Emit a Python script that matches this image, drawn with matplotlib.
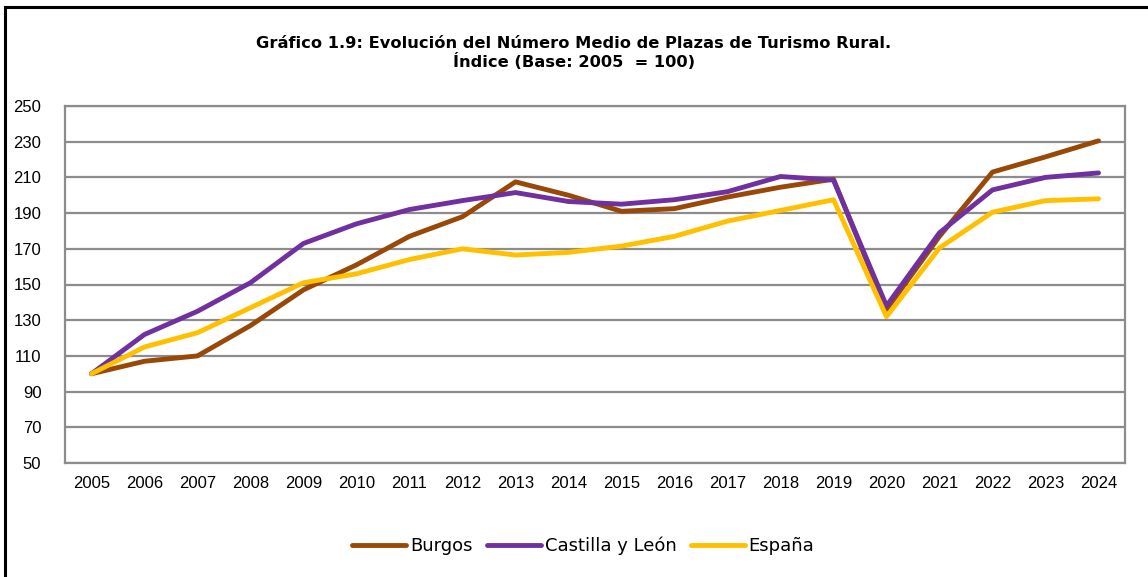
import numpy as np
import matplotlib.pyplot as plt
from matplotlib.patches import Rectangle

# index values (base 2005 = 100)
years = list(range(2005, 2025))
burgos = [100, 107, 110, 127, 147, 161, 177, 188, 207.5, 200, 191, 192.5, 199, 204.5, 209,
          136, 177, 213, 221.5, 230.5]
castilla = [100, 122, 135, 151, 173, 184, 192, 197, 201.5, 196.5, 195, 197.5, 202, 210.5, 208.5,
            138, 179, 203, 210, 212.5]
espana = [100, 115, 123, 137, 151, 156, 164, 170, 166.5, 168, 171.5, 177, 185.5, 191.5, 197.5,
          132, 170.5, 190.5, 197, 198]

series = [("Burgos", burgos, "#984807"),
          ("Castilla y León", castilla, "#7030A0"),
          ("España", espana, "#FFC000")]

title = "Gráfico 1.9: Evolución del Número Medio de Plazas de Turismo Rural.\nÍndice (Base: 2005  = 100)"

fig = plt.figure(figsize=(11.48, 5.77), dpi=100)
ax = fig.add_axes([65 / 1148, 1 - 463 / 577, (1125 - 65) / 1148, (463 - 106) / 577])

for name, vals, col in series:
    ax.plot(years, vals, color=col, linewidth=3.5, label=name, solid_capstyle="round")

ax.set_ylim(50, 250)
ax.set_yticks(range(50, 251, 20))
ax.set_xlim(2004.5, 2024.5)
ax.set_xticks(years)
ax.grid(axis="y", color="#8c8c8c", linewidth=1.6)
ax.set_axisbelow(True)
for sp in ax.spines.values():
    sp.set_color("#8c8c8c")
    sp.set_linewidth(1.6)
ax.tick_params(length=0, labelsize=12)
ax.tick_params(axis="y", pad=17)
ax.tick_params(axis="x", pad=9)
for lab in ax.get_xticklabels() + ax.get_yticklabels():
    lab.set_fontfamily(["Liberation Sans Narrow", "Liberation Sans", "DejaVu Sans"])

fig.text(0.5, 1 - 53 / 577, title, ha="center", va="center", fontsize=11.7,
         fontweight="bold", linespacing=1.2, family="DejaVu Sans")

leg = fig.legend(loc="center", bbox_to_anchor=(0.508, 1 - 546 / 577), ncol=3, frameon=False,
                 fontsize=13, handlelength=3.0, handletextpad=0.2, columnspacing=0.8)

# outer frame of the chart (only left and top edges show in the crop)
fig.patches.append(Rectangle((5 / 1148, -0.1), 1.2, 1.1 - 7 / 577, transform=fig.transFigure,
                             fill=False, edgecolor="black", linewidth=2.2))

fig.savefig("out.png", dpi=100)
